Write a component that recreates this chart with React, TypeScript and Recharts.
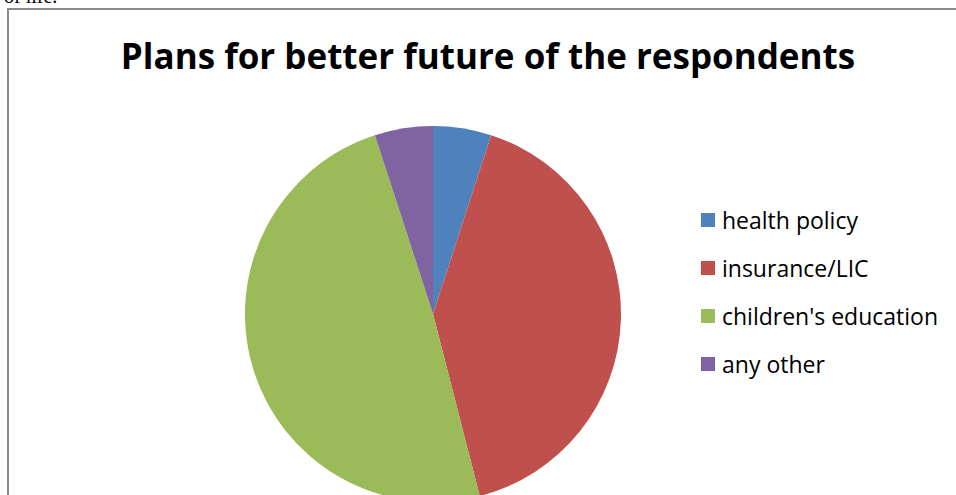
import { PieChart, Pie, Cell, Legend } from "recharts";

const categories = ["health policy", "insurance/LIC", "children's education", "any other"];
const shares = [5, 41, 49, 5];
const colors = ["#4F81BD", "#C0504D", "#9BBB59", "#8064A2"];

const data = categories.map((name, i) => ({ name, value: shares[i] }));

const font = "'Open Sans', 'DejaVu Sans', sans-serif";

function LegendList() {
  return (
    <div style={{ fontFamily: font, fontSize: 23, color: "#000" }}>
      {data.map((d, i) => (
        <div
          key={d.name}
          style={{ display: "flex", alignItems: "center", height: 48 }}
        >
          <span
            style={{
              width: 14,
              height: 14,
              background: colors[i],
              marginRight: 7,
              display: "inline-block",
            }}
          />
          <span>{d.name}</span>
        </div>
      ))}
    </div>
  );
}

export default function App() {
  return (
    <div
      style={{
        position: "absolute",
        left: 0,
        top: 0,
        width: 956,
        height: 495,
        overflow: "hidden",
        background: "#fff",
      }}
    >
      <div
        style={{
          position: "absolute",
          left: 4,
          top: -15,
          fontFamily: "'Liberation Serif', serif",
          fontSize: 20,
        }}
      >
        of life.
      </div>
      <div
        style={{
          position: "absolute",
          left: 7,
          top: 8,
          width: 1200,
          height: 1000,
          border: "2px solid #8a8a8a",
          boxSizing: "border-box",
        }}
      />
      <div
        style={{
          position: "absolute",
          left: 0,
          top: 32,
          width: 976,
          textAlign: "center",
          fontFamily: font,
          fontWeight: 700,
          fontSize: 35,
          color: "#000",
        }}
      >
        Plans for better future of the respondents
      </div>
      <div style={{ position: "absolute", left: 0, top: 0 }}>
        <PieChart width={956} height={495}>
          <Pie
            data={data}
            dataKey="value"
            nameKey="name"
            cx={428}
            cy={309}
            outerRadius={188}
            startAngle={90}
            endAngle={-270}
            stroke="none"
            isAnimationActive={false}
          >
            {data.map((d, i) => (
              <Cell key={d.name} fill={colors[i]} />
            ))}
          </Pie>
          <Legend
            layout="vertical"
            content={<LegendList />}
            wrapperStyle={{ left: 701, top: 196, width: 255 }}
          />
        </PieChart>
      </div>
    </div>
  );
}
